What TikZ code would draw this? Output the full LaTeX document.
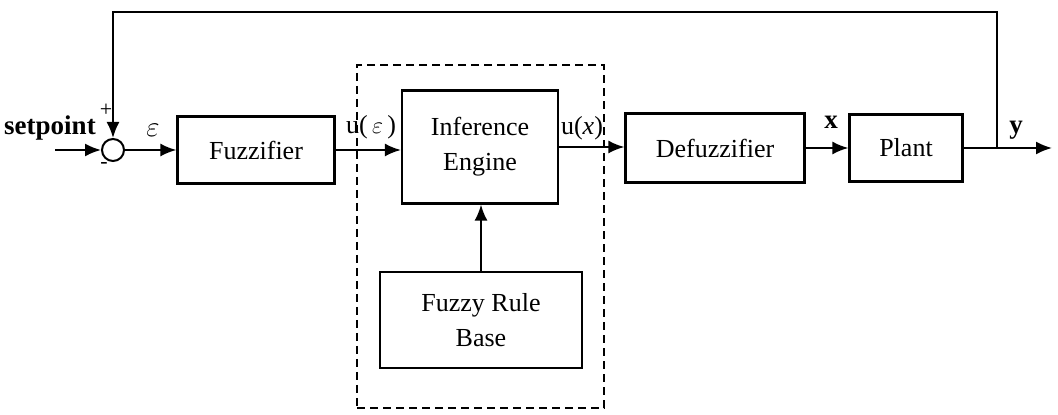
\documentclass[tikz,border=0pt]{standalone}
\usepackage{fontspec}
\setmainfont{Liberation Serif}
\usetikzlibrary{positioning,arrows.meta}

\begin{document}
\begin{tikzpicture}[
  x=0.5pt, y=-0.5pt,
  >={Latex[length=8pt,width=6.5pt]},
  line width=1pt,
  block/.style={draw, line width=1.1pt, align=center, inner sep=2pt,
                font=\fontsize{13}{17.5}\selectfont},
  sumnode/.style={draw, circle, minimum size=11pt, inner sep=0pt},
  sig/.style={font=\fontsize{13.5}{15}\selectfont\bfseries},
  sign/.style={font=\fontsize{11}{12}\selectfont},
  lbl/.style={font=\fontsize{13}{15}\selectfont},
  group/.style={draw, line width=1.1pt, dash pattern=on 4pt off 2.5pt},
]
  \useasboundingbox (0,0) rectangle (1058,415);

  % Blocks
  \node[sumnode] (sum) at (113,150) {};
  \node[block, minimum width=78.5pt, minimum height=33.5pt] (fuzz) at (256,150) {Fuzzifier};
  \node[block, minimum width=78pt, minimum height=56.5pt] (infer) at (480,147) {Inference\\Engine};
  \node[block, minimum width=101pt, minimum height=48pt] (rules) at (481,320) {Fuzzy Rule\\Base};
  \node[block, minimum width=89.5pt, minimum height=34.5pt] (defuzz) at (715,148) {Defuzzifier};
  \node[block, minimum width=56.5pt, minimum height=33.5pt] (plant) at (906,148) {Plant};
  \node[group, minimum width=123.5pt, minimum height=171.5pt] (ctrl) at (480.5,236.5) {};

  \coordinate (sp)  at (55,150);
  \coordinate (br)  at (997,148);
  \coordinate (fbk) at (997,12);
  \coordinate (out) at (1052,148);

  % Labels
  \node[sig] (spl) at (50,128) {setpoint};
  \node[sign] (plus) at (106,110) {+};
  \node[sign] (minus) at (104,166) {-};
  \node[lbl] (el) at (153,130) {\Large$\varepsilon$};
  \node[lbl] (uel) at (371,127) {u(\,{\large$\varepsilon$}\,)};
  \node[lbl] (uxl) at (582,128) {u(\textit{x})};
  \node[sig] (xl) at (831,122) {x};
  \node[sig] (yl) at (1016,130) {y};

  % Signals
  \draw[->] (sp) -- (sum.west);
  \draw[->] (sum.east) -- (sum.east -| fuzz.west);
  \draw[->] (fuzz.east) -- (fuzz.east -| infer.west);
  \draw[->] (infer.east) -- (infer.east -| defuzz.west);
  \draw[->] (defuzz.east) -- (plant.west);
  \draw[->] (plant.east) -- (out);
  \draw[->] (rules.north) -- (rules.north |- infer.south);
  \draw[->] (br) -- (fbk) -| (sum.north);
\end{tikzpicture}
\end{document}
